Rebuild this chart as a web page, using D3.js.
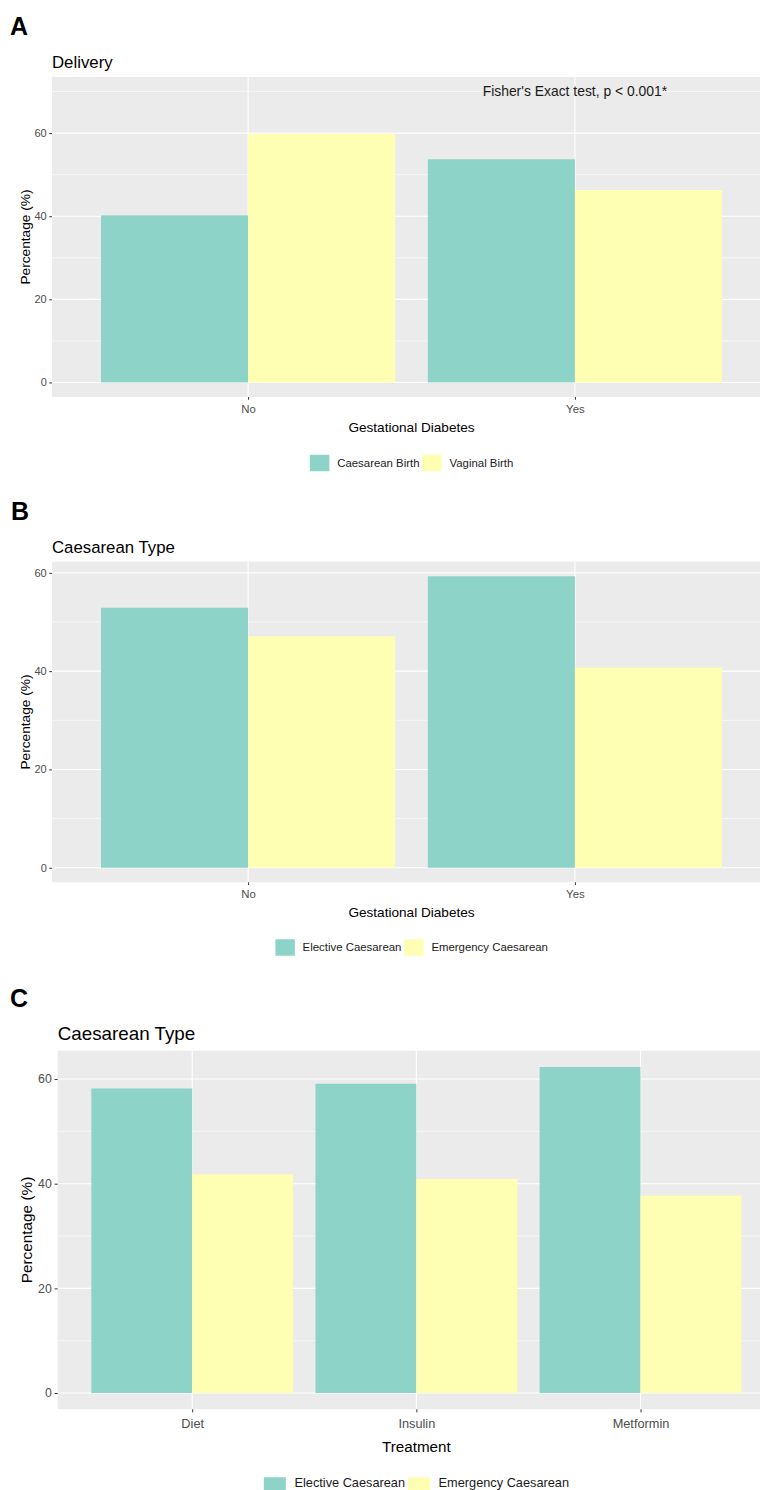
<!DOCTYPE html>
<html>
<head>
<meta charset="utf-8">
<script src="https://cdn.jsdelivr.net/npm/d3@7"></script>
<style>
  html, body { margin: 0; padding: 0; background: #fff; }
  svg { display: block; font-family: "Liberation Sans", Arial, sans-serif; }
</style>
</head>
<body>
<svg id="fig" width="760" height="1490"></svg>
<script>
// ---- data ----
const gdGroups = ["No", "Yes"];
const deliverySeries = ["Caesarean Birth", "Vaginal Birth"];
const caesareanBirth = [40.2, 53.7];
const vaginalBirth = [59.8, 46.3];

const caesTypeSeries = ["Elective Caesarean", "Emergency Caesarean"];
const electiveByGD = [52.9, 59.3];
const emergencyByGD = [47.1, 40.7];

const treatments = ["Diet", "Insulin", "Metformin"];
const electiveByTreatment = [58.2, 59.1, 62.3];
const emergencyByTreatment = [41.8, 40.9, 37.7];

const yTicks = [0, 20, 40, 60];
const fisherLabel = "Fisher's Exact test, p < 0.001*";
const fisherY = 70;

const fillColors = ["#8DD3C7", "#FFFFB3"];

const svg = d3.select("#fig");

// One ggplot-style dodged bar panel
function drawPanel(o) {
  const s = o.scale;
  const g = svg.append("g");
  const yMax = d3.max([d3.max(o.values.flat()), o.annot ? o.annot.y : 0]);
  const y = d3.scaleLinear()
    .domain([-0.05 * yMax, 1.05 * yMax])
    .range([o.bottom, o.top]);
  const x = d3.scalePoint()
    .domain(o.groups)
    .range([o.left, o.right])
    .padding(0.6);
  const step = x.step();

  // panel background
  g.append("rect")
    .attr("x", o.left).attr("y", o.top)
    .attr("width", o.right - o.left).attr("height", o.bottom - o.top)
    .attr("fill", "#EBEBEB");

  // minor gridlines
  const minor = d3.range(10, y.domain()[1], 20);
  g.selectAll(".minor").data(minor).join("line")
    .attr("x1", o.left).attr("x2", o.right)
    .attr("y1", d => y(d)).attr("y2", d => y(d))
    .attr("stroke", "#fff").attr("stroke-width", 0.55);
  // major gridlines
  g.selectAll(".majorY").data(yTicks).join("line")
    .attr("x1", o.left).attr("x2", o.right)
    .attr("y1", d => y(d)).attr("y2", d => y(d))
    .attr("stroke", "#fff").attr("stroke-width", 1.1);
  g.selectAll(".majorX").data(o.groups).join("line")
    .attr("x1", d => x(d)).attr("x2", d => x(d))
    .attr("y1", o.top).attr("y2", o.bottom)
    .attr("stroke", "#fff").attr("stroke-width", 1.1);

  // bars, dodged at width 0.9
  const bw = step * 0.45;
  o.values.forEach((vals, si) => {
    g.selectAll(".bar" + si).data(vals).join("rect")
      .attr("x", (d, i) => x(o.groups[i]) - bw + si * bw)
      .attr("y", d => y(d))
      .attr("width", bw)
      .attr("height", d => y(0) - y(d))
      .attr("fill", fillColors[si]);
  });

  // annotation
  if (o.annot) {
    g.append("text")
      .attr("x", x(o.annot.at)).attr("y", y(o.annot.y))
      .attr("dy", "0.35em")
      .attr("text-anchor", "middle")
      .attr("font-size", 13.9 * s)
      .attr("fill", "#1a1a1a")
      .text(o.annot.label);
  }

  // y axis
  const yAxis = d3.axisLeft(y).tickValues(yTicks).tickSize(2.75 * s).tickPadding(2.5 * s);
  const ya = g.append("g").attr("transform", `translate(${o.left},0)`).call(yAxis);
  ya.select(".domain").remove();
  ya.selectAll(".tick line").attr("stroke", "#333").attr("stroke-width", 1);
  ya.selectAll(".tick text").attr("fill", "#4D4D4D").attr("font-size", 11 * s)
    .attr("font-family", "Liberation Sans, Arial, sans-serif");

  // x axis
  const xAxis = d3.axisBottom(x).tickSize(2.75 * s).tickPadding(o.xTickPad);
  const xa = g.append("g").attr("transform", `translate(0,${o.bottom})`).call(xAxis);
  xa.select(".domain").remove();
  xa.selectAll(".tick line").attr("stroke", "#333").attr("stroke-width", 1);
  xa.selectAll(".tick text").attr("fill", "#4D4D4D").attr("font-size", 11.4 * s)
    .attr("font-family", "Liberation Sans, Arial, sans-serif");

  // axis titles
  const cx = (o.left + o.right) / 2;
  g.append("text")
    .attr("x", cx).attr("y", o.bottom + o.xTitleOff)
    .attr("dy", "0.35em").attr("text-anchor", "middle")
    .attr("font-size", 13.6 * s).attr("fill", "#000")
    .text(o.xTitle);
  const cy = (o.top + o.bottom) / 2;
  g.append("text")
    .attr("transform", `translate(${o.yTitleX},${cy}) rotate(-90)`)
    .attr("dy", "0.35em").attr("text-anchor", "middle")
    .attr("font-size", 13.7 * s).attr("fill", "#000")
    .text("Percentage (%)");

  // plot title
  g.append("text")
    .attr("x", o.left).attr("y", o.top - o.titleGap)
    .attr("font-size", 16.8 * s).attr("fill", "#000")
    .text(o.title);

  // panel letter
  g.append("text")
    .attr("x", o.letterX).attr("y", o.letterY)
    .attr("font-size", 25).attr("font-weight", "bold").attr("fill", "#000")
    .text(o.letter);

  // legend, centred under the panel
  const kw = 20 * s, kh = 17 * s;
  const lg = g.append("g");
  let cursor = 0;
  o.series.forEach((name, si) => {
    lg.append("rect")
      .attr("x", cursor).attr("y", 0)
      .attr("width", kw).attr("height", kh)
      .attr("fill", fillColors[si])
      .attr("stroke", "#fff").attr("stroke-width", 0.5);
    cursor += kw + 7.5 * s;
    const t = lg.append("text")
      .attr("x", cursor).attr("y", o.legendTextY != null ? o.legendTextY : kh / 2).attr("dy", "0.35em")
      .attr("font-size", 11.4 * s).attr("fill", "#1a1a1a")
      .text(name);
    cursor += t.node().getComputedTextLength() + 2.5 * s;
  });
  cursor -= 2.5 * s;
  lg.attr("transform", `translate(${cx - cursor / 2},${o.legendTop})`);
}

drawPanel({
  letter: "A", letterX: 10, letterY: 35,
  title: "Delivery", titleGap: 9,
  groups: gdGroups, series: deliverySeries,
  values: [caesareanBirth, vaginalBirth],
  left: 52, right: 771, top: 77, bottom: 397,
  xTitle: "Gestational Diabetes", xTitleOff: 30, yTitleX: 25, xTickPad: 5,
  legendTop: 454.5, scale: 1,
  annot: { label: fisherLabel, y: fisherY, at: "Yes" }
});

drawPanel({
  letter: "B", letterX: 11, letterY: 520,
  title: "Caesarean Type", titleGap: 8.5,
  groups: gdGroups, series: caesTypeSeries,
  values: [electiveByGD, emergencyByGD],
  left: 52, right: 771, top: 561.7, bottom: 882.3,
  xTitle: "Gestational Diabetes", xTitleOff: 29.5, yTitleX: 25, xTickPad: 5,
  legendTop: 939, scale: 1
});

drawPanel({
  letter: "C", letterX: 10, letterY: 1006.5,
  title: "Caesarean Type", titleGap: 10.7,
  groups: treatments, series: caesTypeSeries,
  values: [electiveByTreatment, emergencyByTreatment],
  left: 57.7, right: 775, top: 1050.7, bottom: 1409.3,
  xTitle: "Treatment", xTitleOff: 37.5, yTitleX: 27, xTickPad: 6.5,
  legendTop: 1477, legendTextY: 5.5, scale: 1.12
});
</script>
</body>
</html>
